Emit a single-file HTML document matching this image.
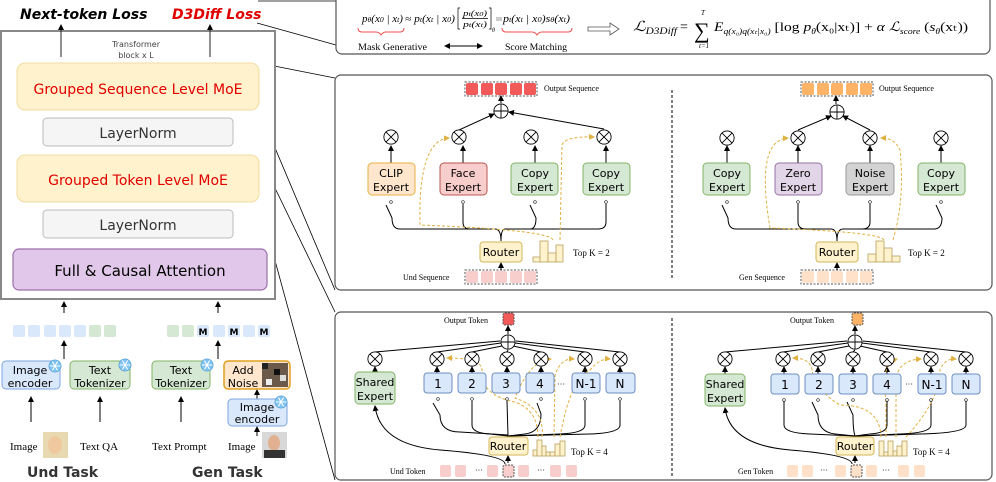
<!DOCTYPE html>
<html><head><meta charset="utf-8"><style>
html,body{margin:0;padding:0;background:#fff;}
svg{display:block;}
.c{font-family:"DejaVu Sans",sans-serif;}
.s{font-family:"Liberation Serif",serif;}
</style></head><body>
<svg width="996" height="482" viewBox="0 0 996 482" xmlns="http://www.w3.org/2000/svg">
<defs>
<marker id="a" markerWidth="6" markerHeight="6" refX="5" refY="3" orient="auto" markerUnits="userSpaceOnUse"><path d="M0,0 L6,3 L0,6 z" fill="#000"/></marker>
<marker id="ao" markerWidth="6" markerHeight="6" refX="5" refY="3" orient="auto" markerUnits="userSpaceOnUse"><path d="M0,0 L6,3 L0,6 z" fill="#e0b040"/></marker>
<symbol id="mul" viewBox="-9 -9 18 18" overflow="visible"><circle r="8" fill="#fff" stroke="#000" stroke-width="1"/><path d="M-5.6,-5.6 L5.6,5.6 M5.6,-5.6 L-5.6,5.6" stroke="#000" stroke-width="1"/></symbol>
<symbol id="plus" viewBox="-9 -9 18 18" overflow="visible"><circle r="8" fill="#fff" stroke="#000" stroke-width="1"/><path d="M-8,0 L8,0 M0,-8 L0,8" stroke="#000" stroke-width="1"/></symbol>
<symbol id="sml" viewBox="-3 -3 6 6" overflow="visible"><circle r="2" fill="#fff" stroke="#000" stroke-width="0.8"/></symbol>
<symbol id="snow" viewBox="-8 -8 16 16" overflow="visible"><circle r="7" fill="#7fc3f0" stroke="#3d8fd0" stroke-width="0.6"/><path d="M-6,0 L6,0 M-3,-5.2 L3,5.2 M3,-5.2 L-3,5.2" stroke="#fff" stroke-width="1.2"/></symbol>
</defs>

<!-- leader lines -->
<g stroke="#000" stroke-width="0.8" fill="none">
<path d="M257,23 L336,45"/><path d="M259,63 L335,78"/><path d="M259,110 L335,290"/><path d="M259,155 L335,312"/><path d="M259,202 L335,480"/><path d="M258,1 L336,1"/>
</g>

<!-- LEFT PANEL -->
<text x="20" y="19" class="c" font-size="14" font-weight="bold" font-style="italic">Next-token Loss</text>
<text x="172" y="19" class="c" font-size="14" font-weight="bold" font-style="italic" fill="#e00000">D3Diff Loss</text>
<rect x="1" y="31" width="274" height="268" fill="#fff" stroke="#888" stroke-width="2"/>
<line x1="61" y1="57" x2="61" y2="25" stroke="#222" marker-end="url(#a)"/>
<line x1="210" y1="57" x2="210" y2="25" stroke="#222" marker-end="url(#a)"/>
<text x="136" y="47" class="c" font-size="8" fill="#444" text-anchor="middle">Transformer</text>
<text x="136" y="58" class="c" font-size="8" fill="#444" text-anchor="middle">block x L</text>
<rect x="17" y="63" width="242" height="47" rx="8" fill="#fff2cc" stroke="#f0dca0"/>
<text x="138" y="94" class="c" font-size="14" fill="#e00000" text-anchor="middle">Grouped Sequence Level MoE</text>
<rect x="43" y="118" width="190" height="28" rx="4" fill="#f5f5f5" stroke="#bbb"/>
<text x="138" y="138" class="c" font-size="14" fill="#333" text-anchor="middle">LayerNorm</text>
<rect x="17" y="155" width="242" height="47" rx="8" fill="#fff2cc" stroke="#f0dca0"/>
<text x="138" y="185" class="c" font-size="14" fill="#e00000" text-anchor="middle">Grouped Token Level MoE</text>
<rect x="43" y="210" width="190" height="28" rx="4" fill="#f5f5f5" stroke="#bbb"/>
<text x="138" y="230" class="c" font-size="14" fill="#333" text-anchor="middle">LayerNorm</text>
<rect x="13" y="249" width="254" height="41" rx="6" fill="#e1c8ea" stroke="#9b6fab" stroke-width="1.2"/>
<text x="140" y="276" class="c" font-size="15" text-anchor="middle">Full &amp; Causal Attention</text>

<!-- bottom left inputs -->
<g stroke="#000" fill="none">
<line x1="64" y1="313" x2="64" y2="302" marker-end="url(#a)"/>
<line x1="218" y1="313" x2="218" y2="302" marker-end="url(#a)"/>
<line x1="64" y1="359" x2="64" y2="341" marker-end="url(#a)"/>
<line x1="218" y1="359" x2="218" y2="341" marker-end="url(#a)"/>
<line x1="31" y1="422" x2="31" y2="397" marker-end="url(#a)"/>
<line x1="100" y1="422" x2="100" y2="397" marker-end="url(#a)"/>
<line x1="181" y1="422" x2="181" y2="397" marker-end="url(#a)"/>
<line x1="257" y1="399" x2="257" y2="390" marker-end="url(#a)"/>
<line x1="257" y1="436" x2="257" y2="427" marker-end="url(#a)"/>
</g>
<g stroke="none">
<rect x="13" y="325" width="12" height="12" rx="2" fill="#dae8fc"/><rect x="28" y="325" width="12" height="12" rx="2" fill="#dae8fc"/><rect x="44" y="325" width="12" height="12" rx="2" fill="#dae8fc"/><rect x="59" y="325" width="12" height="12" rx="2" fill="#dae8fc"/><rect x="74" y="325" width="12" height="12" rx="2" fill="#dae8fc"/><rect x="89" y="325" width="12" height="12" rx="2" fill="#d5e8d4"/><rect x="104" y="325" width="12" height="12" rx="2" fill="#d5e8d4"/>
<rect x="167" y="325" width="12" height="12" rx="2" fill="#d5e8d4"/><rect x="182" y="325" width="12" height="12" rx="2" fill="#d5e8d4"/><rect x="197" y="325" width="12" height="12" rx="2" fill="#dae8fc"/><rect x="213" y="325" width="12" height="12" rx="2" fill="#dae8fc"/><rect x="228" y="325" width="12" height="12" rx="2" fill="#dae8fc"/><rect x="243" y="325" width="12" height="12" rx="2" fill="#dae8fc"/><rect x="258" y="325" width="12" height="12" rx="2" fill="#dae8fc"/>
</g>
<g class="c" font-size="9" font-weight="bold" text-anchor="middle"><text x="203" y="335">M</text><text x="234" y="335">M</text><text x="264" y="335">M</text></g>
<rect x="2" y="361" width="58" height="28" rx="4" fill="#dae8fc" stroke="#7ea6e0"/>
<text x="30" y="374" class="c" font-size="11" text-anchor="middle">Image</text><text x="30" y="387" class="c" font-size="11" text-anchor="middle">encoder</text>
<use href="#snow" x="48" y="359" width="14" height="14"/>
<rect x="70" y="361" width="60" height="28" rx="4" fill="#d5e8d4" stroke="#82b366"/>
<text x="100" y="374" class="c" font-size="11" text-anchor="middle">Text</text><text x="100" y="387" class="c" font-size="11" text-anchor="middle">Tokenizer</text>
<use href="#snow" x="118" y="358" width="14" height="14"/>
<rect x="152" y="361" width="58" height="28" rx="4" fill="#d5e8d4" stroke="#82b366"/>
<text x="181" y="374" class="c" font-size="11" text-anchor="middle">Text</text><text x="181" y="387" class="c" font-size="11" text-anchor="middle">Tokenizer</text>
<use href="#snow" x="200" y="358" width="14" height="14"/>
<rect x="224" y="361" width="66" height="28" rx="4" fill="#ffe6cc" stroke="#e0a020" stroke-width="1.5"/>
<text x="243" y="374" class="c" font-size="11" text-anchor="middle">Add</text><text x="243" y="387" class="c" font-size="11" text-anchor="middle">Noise</text>
<rect x="262" y="363" width="26" height="24" fill="#6b5a4a"/><rect x="262" y="363" width="6" height="6" fill="#222"/><rect x="274" y="369" width="6" height="6" fill="#111"/><rect x="280" y="375" width="6" height="6" fill="#ddd"/><rect x="266" y="379" width="6" height="6" fill="#eee"/>
<rect x="228" y="399" width="59" height="27" rx="4" fill="#dae8fc" stroke="#7ea6e0"/>
<text x="257" y="411" class="c" font-size="11" text-anchor="middle">Image</text><text x="257" y="423" class="c" font-size="11" text-anchor="middle">encoder</text>
<use href="#snow" x="274" y="395" width="14" height="14"/>
<g class="s" font-size="11">
<text x="10" y="450">Image</text><text x="80" y="450">Text QA</text><text x="152" y="450">Text Prompt</text><text x="228" y="450">Image</text>
</g>
<rect x="43" y="432" width="25" height="26" fill="#e8d9b0"/><ellipse cx="55" cy="445" rx="7" ry="9" fill="#f0c8a0"/>
<rect x="262" y="432" width="25" height="26" fill="#d8d8d8"/><ellipse cx="274" cy="443" rx="6" ry="8" fill="#e0b090"/><rect x="264" y="450" width="21" height="8" fill="#333"/>
<text x="27" y="477" class="c" font-size="14" font-weight="bold" fill="#333">Und Task</text>
<text x="192" y="477" class="c" font-size="14" font-weight="bold" fill="#333">Gen Task</text>

<!-- FORMULA PANEL -->
<rect x="336" y="-8" width="654" height="62" rx="6" fill="#fff" stroke="#555" stroke-width="1.2"/>
<g class="s" font-size="10" font-style="italic">
<text x="362" y="22" textLength="41" lengthAdjust="spacingAndGlyphs">p<tspan font-size="7">θ</tspan>(x<tspan font-size="7">0</tspan> | x<tspan font-size="7">t</tspan>)</text>
<text x="405" y="22" textLength="50" lengthAdjust="spacingAndGlyphs">≈ p<tspan font-size="7">t</tspan>(x<tspan font-size="7">t</tspan> | x<tspan font-size="7">0</tspan>)</text>
<text x="463" y="16" font-size="8" textLength="24" lengthAdjust="spacingAndGlyphs">p<tspan font-size="6">t</tspan>(x<tspan font-size="6">0</tspan>)</text>
<text x="463" y="27" font-size="8" textLength="24" lengthAdjust="spacingAndGlyphs">p<tspan font-size="6">t</tspan>(x<tspan font-size="6">t</tspan>)</text>
<text x="503" y="22" textLength="67" lengthAdjust="spacingAndGlyphs">p<tspan font-size="7">t</tspan>(x<tspan font-size="7">t</tspan> | x<tspan font-size="7">0</tspan>)s<tspan font-size="7">θ</tspan>(x<tspan font-size="7">t</tspan>)</text>
</g>
<rect x="496" y="17" width="6" height="4" fill="#ccc"/>
<path d="M460,8 L458,8 L458,29 L460,29 M489,8 L491,8 L491,29 L489,29 M462,18.5 L488,18.5" stroke="#000" stroke-width="0.7" fill="none"/>
<text x="492" y="32" class="s" font-size="6" font-style="italic">θ</text>
<path d="M358,28 q0,4 4,4 h14 q3,0 5,3 q2,-3 5,-3 h14 q4,0 4,-4" stroke="#f05050" fill="none"/>
<path d="M502,28 q0,4 4,4 h26 q3,0 5,3 q2,-3 5,-3 h26 q4,0 4,-4" stroke="#f05050" fill="none"/>
<text x="358" y="50" class="s" font-size="9" textLength="69" lengthAdjust="spacingAndGlyphs">Mask Generative</text>
<text x="505" y="50" class="s" font-size="9" textLength="62" lengthAdjust="spacingAndGlyphs">Score Matching</text>
<line x1="452" y1="46" x2="482" y2="46" stroke="#000" marker-end="url(#a)"/><line x1="470" y1="46" x2="445" y2="46" stroke="#000" marker-end="url(#a)"/>
<path d="M588,27 h22 v-4 l9,6 l-9,6 v-4 h-22 z" fill="#fff" stroke="#555" stroke-width="0.8"/>
<g class="s" font-style="italic">
<text x="633" y="31" font-size="14" textLength="44" lengthAdjust="spacingAndGlyphs">ℒ<tspan font-size="9" dy="3">D3Diff</tspan></text>
<text x="680" y="31" font-size="14" font-style="normal">=</text>
<text x="694" y="38" font-size="22" font-style="normal">∑</text>
<text x="701" y="15" font-size="7">T</text><text x="699" y="48" font-size="7">t=1</text>
<text x="714" y="31" font-size="13" textLength="254" lengthAdjust="spacingAndGlyphs">E<tspan font-size="8" dy="3">q(x₀)q(xₜ|x₀)</tspan><tspan dy="-3" font-style="normal"> [log </tspan>p<tspan font-size="8" dy="3">θ</tspan><tspan dy="-3" font-style="normal">(x₀|xₜ)] + </tspan>α ℒ<tspan font-size="8" dy="3">score</tspan><tspan dy="-3" font-style="normal"> (</tspan>s<tspan font-size="8" dy="3">θ</tspan><tspan dy="-3" font-style="normal">(xₜ))</tspan></text>
</g>

<!-- MIDDLE PANEL -->
<rect x="335" y="75" width="657" height="215" rx="6" fill="#fff" stroke="#555" stroke-width="1.2"/>
<line x1="672" y1="90" x2="672" y2="278" stroke="#000" stroke-dasharray="3,2"/>
<g class="s" font-size="8">
<text x="544" y="91">Output Sequence</text><text x="879" y="91">Output Sequence</text>
<text x="403" y="280">Und Sequence</text><text x="739" y="280">Gen Sequence</text>
<text x="573" y="256" font-size="9">Top K = 2</text><text x="908" y="256" font-size="9">Top K = 2</text>
</g>
<g>
<rect x="465" y="82" width="72" height="14" fill="none" stroke="#555" stroke-dasharray="2,1.5"/>
<rect x="466" y="83" width="12" height="12" rx="2" fill="#f25a5a"/><rect x="481" y="83" width="12" height="12" rx="2" fill="#f25a5a"/><rect x="495" y="83" width="12" height="12" rx="2" fill="#f25a5a"/><rect x="510" y="83" width="12" height="12" rx="2" fill="#f25a5a"/><rect x="524" y="83" width="12" height="12" rx="2" fill="#f25a5a"/>
<rect x="465" y="270" width="72" height="14" fill="none" stroke="#555" stroke-dasharray="2,1.5"/>
<rect x="466" y="271" width="12" height="12" rx="2" fill="#f8cecc"/><rect x="481" y="271" width="12" height="12" rx="2" fill="#f8cecc"/><rect x="495" y="271" width="12" height="12" rx="2" fill="#f8cecc"/><rect x="510" y="271" width="12" height="12" rx="2" fill="#f8cecc"/><rect x="524" y="271" width="12" height="12" rx="2" fill="#f8cecc"/>
<rect x="801" y="82" width="72" height="14" fill="none" stroke="#555" stroke-dasharray="2,1.5"/>
<rect x="802" y="83" width="12" height="12" rx="2" fill="#ffb366"/><rect x="817" y="83" width="12" height="12" rx="2" fill="#ffb366"/><rect x="831" y="83" width="12" height="12" rx="2" fill="#ffb366"/><rect x="846" y="83" width="12" height="12" rx="2" fill="#ffb366"/><rect x="860" y="83" width="12" height="12" rx="2" fill="#ffb366"/>
<rect x="801" y="270" width="72" height="14" fill="none" stroke="#555" stroke-dasharray="2,1.5"/>
<rect x="802" y="271" width="12" height="12" rx="2" fill="#ffe0c8"/><rect x="817" y="271" width="12" height="12" rx="2" fill="#ffe0c8"/><rect x="831" y="271" width="12" height="12" rx="2" fill="#ffe0c8"/><rect x="846" y="271" width="12" height="12" rx="2" fill="#ffe0c8"/><rect x="860" y="271" width="12" height="12" rx="2" fill="#ffe0c8"/>
</g>
<g stroke="#000" fill="none" stroke-width="1">
<line x1="501" y1="103" x2="501" y2="96" marker-end="url(#a)"/>
<line x1="836" y1="104" x2="836" y2="96" marker-end="url(#a)"/>
<line x1="459" y1="130" x2="494" y2="114" marker-end="url(#a)"/>
<path d="M604,129 L509,112" marker-end="url(#a)"/>
<line x1="798" y1="130" x2="831" y2="116" marker-end="url(#a)"/>
<line x1="870" y1="130" x2="843" y2="116" marker-end="url(#a)"/>
<line x1="501" y1="270" x2="501" y2="263" marker-end="url(#a)"/>
<line x1="837" y1="270" x2="837" y2="263" marker-end="url(#a)"/>
<line x1="391" y1="163" x2="391" y2="146" marker-end="url(#a)"/><line x1="463" y1="163" x2="463" y2="146" marker-end="url(#a)"/><line x1="535" y1="163" x2="535" y2="146" marker-end="url(#a)"/><line x1="606" y1="163" x2="606" y2="146" marker-end="url(#a)"/>
<line x1="727" y1="163" x2="727" y2="146" marker-end="url(#a)"/><line x1="798" y1="163" x2="798" y2="146" marker-end="url(#a)"/><line x1="870" y1="163" x2="870" y2="146" marker-end="url(#a)"/><line x1="941" y1="163" x2="941" y2="146" marker-end="url(#a)"/>
<path d="M386,205 L392,218 Q392,229 400,229 L495,229 Q501,229 501,241"/>
<path d="M463,204 L463,222 Q463,229 470,229 L495,229"/>
<path d="M530,205 L536,218 Q536,229 530,229 L505,229 Q501,229 501,241"/>
<path d="M606,204 L606,222 Q606,229 598,229 L530,229"/>
<path d="M722,205 L728,218 Q728,229 736,229 L831,229 Q837,229 837,241"/>
<path d="M798,204 L798,222 Q798,229 806,229 L831,229"/>
<path d="M870,204 L870,222 Q870,229 862,229 L843,229 Q837,229 837,241"/>
<path d="M936,205 L942,218 Q942,229 934,229 L860,229"/>
</g>
<g stroke="#e0b040" fill="none" stroke-dasharray="3,2">
<path d="M553,240 Q550,230 420,225 Q418,140 449,138" marker-end="url(#ao)"/>
<path d="M560,240 L562,145 Q565,136 594,137" marker-end="url(#ao)"/>
<path d="M884,240 Q880,232 770,228 Q755,140 788,138" marker-end="url(#ao)"/>
<path d="M893,240 Q905,200 900,150 Q895,138 881,138" marker-end="url(#ao)"/>
</g>
<use href="#plus" x="493" y="103" width="16" height="16"/><use href="#plus" x="829" y="104" width="16" height="16"/>
<use href="#mul" x="383" y="129" width="16" height="16"/><use href="#mul" x="451" y="129" width="16" height="16"/><use href="#mul" x="523" y="129" width="16" height="16"/><use href="#mul" x="596" y="129" width="16" height="16"/>
<use href="#mul" x="719" y="130" width="16" height="16"/><use href="#mul" x="790" y="130" width="16" height="16"/><use href="#mul" x="862" y="130" width="16" height="16"/><use href="#mul" x="933" y="130" width="16" height="16"/>
<g class="c" font-size="11" text-anchor="middle">
<rect x="368" y="163" width="47" height="32" rx="4" fill="#ffe6cc" stroke="#e8b040"/><text x="391" y="177">CLIP</text><text x="391" y="191">Expert</text>
<rect x="440" y="163" width="47" height="32" rx="4" fill="#f8cecc" stroke="#b85450"/><text x="463" y="177">Face</text><text x="463" y="191">Expert</text>
<rect x="511" y="163" width="47" height="32" rx="4" fill="#d5e8d4" stroke="#82b366"/><text x="535" y="177">Copy</text><text x="535" y="191">Expert</text>
<rect x="583" y="163" width="47" height="32" rx="4" fill="#d5e8d4" stroke="#82b366"/><text x="606" y="177">Copy</text><text x="606" y="191">Expert</text>
<rect x="703" y="163" width="47" height="32" rx="4" fill="#d5e8d4" stroke="#82b366"/><text x="727" y="177">Copy</text><text x="727" y="191">Expert</text>
<rect x="775" y="163" width="47" height="32" rx="4" fill="#e1d5e7" stroke="#9673a6"/><text x="798" y="177">Zero</text><text x="798" y="191">Expert</text>
<rect x="846" y="163" width="48" height="32" rx="4" fill="#d3d3d3" stroke="#999"/><text x="870" y="177">Noise</text><text x="870" y="191">Expert</text>
<rect x="918" y="163" width="47" height="32" rx="4" fill="#d5e8d4" stroke="#82b366"/><text x="941" y="177">Copy</text><text x="941" y="191">Expert</text>
<rect x="480" y="242" width="42" height="20" rx="3" fill="#fff2cc" stroke="#d6b656"/><text x="501" y="256">Router</text>
<rect x="816" y="242" width="42" height="20" rx="3" fill="#fff2cc" stroke="#d6b656"/><text x="837" y="256">Router</text>
</g>
<use href="#sml" x="389" y="200" width="4" height="4"/><use href="#sml" x="461" y="200" width="4" height="4"/><use href="#sml" x="533" y="200" width="4" height="4"/><use href="#sml" x="604" y="200" width="4" height="4"/>
<use href="#sml" x="725" y="200" width="4" height="4"/><use href="#sml" x="796" y="200" width="4" height="4"/><use href="#sml" x="868" y="200" width="4" height="4"/><use href="#sml" x="939" y="200" width="4" height="4"/>
<g fill="#fff2cc" stroke="#b8a060" stroke-width="0.8">
<rect x="533" y="257" width="7" height="5"/><rect x="540" y="241" width="8" height="21"/><rect x="548" y="253" width="8" height="9"/><rect x="556" y="245" width="7" height="17"/>
<rect x="868" y="254" width="8" height="8"/><rect x="876" y="241" width="8" height="21"/><rect x="884" y="248" width="8" height="14"/><rect x="892" y="256" width="8" height="6"/>
</g>

<!-- BOTTOM PANEL -->
<rect x="335" y="312" width="657" height="168" rx="6" fill="#fff" stroke="#555" stroke-width="1.2"/>
<line x1="672" y1="318" x2="672" y2="476" stroke="#000" stroke-dasharray="3,2"/>
<g class="s" font-size="8">
<text x="444" y="323">Output Token</text><text x="790" y="323">Output Token</text>
<text x="390" y="474">Und Token</text><text x="738" y="474">Gen Token</text>
<text x="571" y="455" font-size="9">Top K = 4</text><text x="913" y="455" font-size="9">Top K = 4</text>
<text x="475" y="473">···</text><text x="537" y="473">···</text><text x="820" y="473">···</text><text x="882" y="473">···</text>
<text x="557" y="387">···</text><text x="905" y="387">···</text>
</g>
<rect x="503" y="313" width="11" height="12" rx="2" fill="#f25a5a" stroke="#555" stroke-dasharray="2,1"/>
<rect x="852" y="313" width="11" height="12" rx="2" fill="#ffb366" stroke="#555" stroke-dasharray="2,1"/>
<g fill="#f8cecc">
<rect x="440" y="465" width="11" height="12" rx="2"/><rect x="455" y="465" width="11" height="12" rx="2"/><rect x="487" y="465" width="11" height="12" rx="2"/><rect x="503" y="465" width="11" height="12" rx="2" stroke="#555" stroke-dasharray="2,1"/><rect x="518" y="465" width="11" height="12" rx="2"/><rect x="550" y="465" width="11" height="12" rx="2"/><rect x="566" y="465" width="11" height="12" rx="2"/>
</g>
<g fill="#ffe0c8">
<rect x="787" y="465" width="11" height="12" rx="2"/><rect x="802" y="465" width="11" height="12" rx="2"/><rect x="835" y="465" width="11" height="12" rx="2"/><rect x="851" y="465" width="11" height="12" rx="2" stroke="#555" stroke-dasharray="2,1"/><rect x="866" y="465" width="11" height="12" rx="2"/><rect x="898" y="465" width="11" height="12" rx="2"/><rect x="914" y="465" width="11" height="12" rx="2"/>
</g>
<g stroke="#000" fill="none" stroke-width="1">
<line x1="508" y1="334" x2="508" y2="326" marker-end="url(#a)"/><line x1="855" y1="334" x2="855" y2="326" marker-end="url(#a)"/>
<path d="M375,352 L500,341"/><path d="M437,352 L501,343"/><path d="M472,352 L502,346"/><path d="M507,352 L508,350"/><path d="M541,352 L513,346"/><path d="M585,352 L515,343"/><path d="M620,352 L516,341"/>
<path d="M725,352 L847,341"/><path d="M783,352 L848,343"/><path d="M818,352 L849,346"/><path d="M853,352 L855,350"/><path d="M887,352 L860,346"/><path d="M931,352 L862,343"/><path d="M966,352 L863,341"/>
<line x1="375" y1="372" x2="375" y2="367" marker-end="url(#a)"/><line x1="437" y1="373" x2="437" y2="367" marker-end="url(#a)"/><line x1="472" y1="373" x2="472" y2="367" marker-end="url(#a)"/><line x1="507" y1="373" x2="507" y2="367" marker-end="url(#a)"/><line x1="541" y1="373" x2="541" y2="367" marker-end="url(#a)"/><line x1="585" y1="373" x2="585" y2="367" marker-end="url(#a)"/><line x1="620" y1="373" x2="620" y2="367" marker-end="url(#a)"/>
<line x1="725" y1="374" x2="725" y2="367" marker-end="url(#a)"/><line x1="784" y1="374" x2="784" y2="367" marker-end="url(#a)"/><line x1="818" y1="374" x2="818" y2="367" marker-end="url(#a)"/><line x1="853" y1="374" x2="853" y2="367" marker-end="url(#a)"/><line x1="887" y1="374" x2="887" y2="367" marker-end="url(#a)"/><line x1="931" y1="374" x2="931" y2="367" marker-end="url(#a)"/><line x1="966" y1="374" x2="966" y2="367" marker-end="url(#a)"/>
<path d="M433,403 L440,415 Q440,432 460,432 L508,435"/><path d="M472,401 L472,425 Q472,433 490,434 L508,436"/><path d="M507,401 L508,436"/><path d="M537,403 L541,414 Q541,432 525,434 L508,436"/><path d="M585,401 L585,425 Q585,433 560,434 L508,436"/><path d="M620,401 L620,425 Q620,433 590,434 L508,436"/>
<path d="M784,401 L784,425 Q784,433 810,434 L855,436"/><path d="M812,402 L818,415 Q818,432 835,434 L855,436"/><path d="M847,402 L853,415 Q853,430 855,436"/><path d="M887,401 L887,425 Q887,433 870,434 L855,436"/><path d="M931,401 L931,425 Q931,433 900,434 L855,436"/><path d="M966,401 L966,425 Q966,433 920,434 L855,436"/>
<line x1="508" y1="463" x2="508" y2="456" marker-end="url(#a)"/><line x1="855" y1="463" x2="855" y2="456" marker-end="url(#a)"/>
<path d="M505,464 Q505,455 440,450 Q380,445 375,406" marker-end="url(#a)"/>
<path d="M852,464 Q852,455 790,450 Q730,445 725,408" marker-end="url(#a)"/>
</g>
<g stroke="#e0b040" fill="none" stroke-dasharray="3,2">
<path d="M538,437 Q538,410 515,402 Q480,395 482,370 Q482,358 447,358" marker-end="url(#ao)"/>
<path d="M542,437 Q545,408 515,398 Q530,360 551,359" marker-end="url(#ao)"/>
<path d="M554,437 L555,376 Q560,358 574,359" marker-end="url(#ao)"/>
<path d="M560,437 Q570,380 590,370 Q600,358 610,359" marker-end="url(#ao)"/>
<path d="M881,437 Q880,405 840,405 Q815,390 812,370 Q810,358 793,358" marker-end="url(#ao)"/>
<path d="M886,437 L886,400 Q880,365 897,359" marker-end="url(#ao)"/>
<path d="M896,437 L896,380 Q898,360 921,359" marker-end="url(#ao)"/>
<path d="M906,437 Q940,400 940,370 Q945,358 956,359" marker-end="url(#ao)"/>
</g>
<use href="#plus" x="500" y="334" width="16" height="16"/><use href="#plus" x="847" y="334" width="16" height="16"/>
<use href="#mul" x="367" y="351" width="16" height="16"/><use href="#mul" x="429" y="351" width="16" height="16"/><use href="#mul" x="464" y="351" width="16" height="16"/><use href="#mul" x="499" y="351" width="16" height="16"/><use href="#mul" x="533" y="351" width="16" height="16"/><use href="#mul" x="577" y="351" width="16" height="16"/><use href="#mul" x="612" y="351" width="16" height="16"/>
<use href="#mul" x="717" y="351" width="16" height="16"/><use href="#mul" x="775" y="351" width="16" height="16"/><use href="#mul" x="810" y="351" width="16" height="16"/><use href="#mul" x="845" y="351" width="16" height="16"/><use href="#mul" x="879" y="351" width="16" height="16"/><use href="#mul" x="923" y="351" width="16" height="16"/><use href="#mul" x="958" y="351" width="16" height="16"/>
<g class="c" font-size="11" text-anchor="middle">
<rect x="355" y="372" width="40" height="32" rx="4" fill="#d5e8d4" stroke="#82b366"/><text x="375" y="386">Shared</text><text x="375" y="400">Expert</text>
<rect x="705" y="374" width="40" height="32" rx="4" fill="#d5e8d4" stroke="#82b366"/><text x="725" y="388">Shared</text><text x="725" y="402">Expert</text>
</g>
<g class="c" font-size="12" text-anchor="middle">
<g fill="#dae8fc" stroke="#6c8ebf">
<rect x="424" y="373" width="28" height="20" rx="3"/><rect x="458" y="373" width="28" height="20" rx="3"/><rect x="492" y="373" width="28" height="20" rx="3"/><rect x="526" y="373" width="28" height="20" rx="3"/><rect x="572" y="373" width="28" height="20" rx="3"/><rect x="606" y="373" width="29" height="20" rx="3"/>
<rect x="771" y="374" width="28" height="20" rx="3"/><rect x="805" y="374" width="28" height="20" rx="3"/><rect x="839" y="374" width="28" height="20" rx="3"/><rect x="873" y="374" width="28" height="20" rx="3"/><rect x="918" y="374" width="28" height="20" rx="3"/><rect x="952" y="374" width="28" height="20" rx="3"/>
</g>
<text x="438" y="388">1</text><text x="472" y="388">2</text><text x="506" y="388">3</text><text x="540" y="388">4</text><text x="586" y="388">N-1</text><text x="620" y="388">N</text>
<text x="785" y="389">1</text><text x="819" y="389">2</text><text x="853" y="389">3</text><text x="887" y="389">4</text><text x="932" y="389">N-1</text><text x="966" y="389">N</text>
<rect x="489" y="437" width="39" height="18" rx="3" fill="#fff2cc" stroke="#d6b656"/><text x="508" y="450" font-size="11">Router</text>
<rect x="836" y="437" width="38" height="18" rx="3" fill="#fff2cc" stroke="#d6b656"/><text x="855" y="450" font-size="11">Router</text>
</g>
<g>
<use href="#sml" x="436" y="397" width="4" height="4"/><use href="#sml" x="470" y="397" width="4" height="4"/><use href="#sml" x="505" y="397" width="4" height="4"/><use href="#sml" x="539" y="397" width="4" height="4"/><use href="#sml" x="583" y="397" width="4" height="4"/><use href="#sml" x="618" y="397" width="4" height="4"/>
<use href="#sml" x="782" y="398" width="4" height="4"/><use href="#sml" x="816" y="398" width="4" height="4"/><use href="#sml" x="851" y="398" width="4" height="4"/><use href="#sml" x="885" y="398" width="4" height="4"/><use href="#sml" x="929" y="398" width="4" height="4"/><use href="#sml" x="964" y="398" width="4" height="4"/>
</g>
<g fill="#fff2cc" stroke="#b8a060" stroke-width="0.8">
<rect x="533" y="450" width="4" height="6"/><rect x="537" y="440" width="5" height="16"/><rect x="542" y="446" width="4" height="10"/><rect x="546" y="452" width="4" height="4"/><rect x="550" y="452" width="5" height="4"/><rect x="555" y="444" width="5" height="12"/><rect x="560" y="441" width="5" height="15"/>
<rect x="879" y="441" width="5" height="15"/><rect x="884" y="452" width="4" height="4"/><rect x="888" y="441" width="5" height="15"/><rect x="893" y="451" width="4" height="5"/><rect x="897" y="446" width="5" height="10"/><rect x="902" y="441" width="5" height="15"/>
</g>
</svg>
</body></html>
